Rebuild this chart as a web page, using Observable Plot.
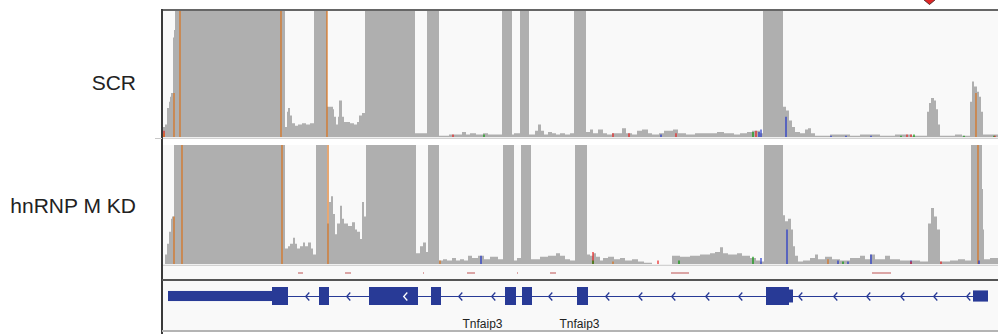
<!DOCTYPE html>
<html><head><meta charset="utf-8">
<script src="https://cdn.jsdelivr.net/npm/d3@7"></script>
<script src="https://cdn.jsdelivr.net/npm/@observablehq/plot@0.6"></script>
<style>
body{margin:0;background:#fff;font-family:"Liberation Sans",Arial,sans-serif;}
#root{position:relative;width:998px;height:334px;overflow:hidden;background:#fff;}
.slot{position:absolute;left:162px;}
.slot svg{display:block;}
.line{position:absolute;}
.label{position:absolute;left:0;width:136px;text-align:right;font-size:21px;line-height:21px;color:#222;white-space:nowrap;}
</style></head><body><div id="root"></div>
<script>
// ---- data (positions are bins across the locus, 0..836) ----
const trackNames = ["SCR", "hnRNP M KD"];
const FULL = 200; // saturated coverage (clipped at track top)

const scrCoverage = [[0,2],[1,8],[3,10],[5,23],[7,28],[8,32],[9,35],[11,79],[12,85],[13,FULL],
[123,8],[125,20],[126,23],[128,17],[130,11],[133,9],[136,10],[140,11],[144,10],[148,11],
[152,FULL],
[165,24],[171,22],[172,16],[174,10],[176,16],[177,29],[180,16],[182,12],[188,11],[192,10],[195,12],[197,17],[200,19],
[203,FULL],[253,3],[265,FULL],
[277,1],[287,2],[300,4],[304,2],[308,3],[314,2],[321,3],[326,2],
[340,FULL],[350,2],[352,3],[358,FULL],
[367,2],[373,5],[376,10],[379,5],[382,2],[386,4],[390,3],[394,2],[398,3],[403,2],[408,3],
[412,FULL],
[424,4],[428,6],[431,3],[436,6],[441,3],[445,2],[450,3],[460,7],[464,3],[470,2],[475,5],[480,6],[486,3],[490,2],[497,3],[502,5],[511,6],[516,3],[524,2],[533,3],[545,3],[555,4],[562,3],[572,2],[578,3],[585,4],[590,5],[598,3],
[601,FULL],
[621,24],[624,21],[627,13],[630,8],[633,4],[638,3],[643,6],[646,7],[649,3],[653,1],[668,2],[688,1],[698,2],[718,1],[733,2],[743,2],[750,1],
[765,20],[767,27],[769,31],[772,29],[774,22],[776,10],[778,1],[793,2],[800,1],
[808,28],[810,44],[812,40],[815,36],[817,32],[819,20],[821,2],[828,2],[836,2]];

const kdCoverage = [[0,0],[3,8],[5,17],[7,27],[9,38],[10,40],[12,FULL],
[123,13],[126,15],[128,17],[131,22],[133,17],[135,13],[138,15],[141,18],[143,15],[146,18],[149,13],[151,8],
[154,FULL],
[165,34],[167,52],[169,57],[171,42],[173,25],[175,34],[178,49],[180,38],[182,34],[186,32],[190,35],[193,29],[195,27],[198,21],[200,52],[202,40],
[204,FULL],
[254,9],[258,15],[261,18],[264,10],
[266,FULL],
[277,3],[281,4],[285,3],[290,5],[294,3],[298,4],[302,3],[306,7],[310,5],[316,7],[322,4],[328,6],[336,4],
[341,FULL],[352,3],[355,5],[359,FULL],
[369,4],[378,6],[386,7],[394,9],[398,7],[403,4],[408,3],
[413,FULL],
[425,8],[428,7],[431,9],[434,6],[438,3],[441,5],[446,6],[452,4],[458,5],[463,3],[470,4],[476,2],[482,1],[490,0],
[510,7],[518,6],[528,7],[538,8],[548,9],[553,10],[558,14],[561,9],[566,8],[575,9],[580,7],[588,5],[594,3],[598,2],
[602,FULL],
[621,41],[623,36],[626,38],[629,29],[631,15],[633,7],[636,2],[641,3],[648,5],[653,8],[656,4],[663,6],[670,4],[678,3],[688,5],[698,7],[703,4],[708,8],[713,4],[723,7],[728,4],[738,3],[748,3],[758,2],
[766,34],[769,47],[772,40],[775,29],[778,2],[788,3],[796,4],[803,3],
[809,FULL],
[820,63],[821,29],[822,4],[828,5],[836,5]];

// mismatches: [position, base, height]
const scrMismatches = [[1,"T",5],[1,"G",3],[11,"G",35],[17,"G",FULL],[118,"G",FULL],[164,"G",FULL],
[290,"T",2],[321,"A",2],[450,"T",3],[466,"T",3],[498,"C",2],[513,"T",3],[590,"A",4],[593,"T",5],[596,"C",4],[598,"C",6],
[623,"C",16],[668,"C",1],[683,"C",1],[708,"C",1],[738,"A",1],[744,"T",2],[748,"T",2],[751,"A",2],[801,"A",1],[813,"G",35],[831,"A",1],[832,"T",1]];
const kdMismatches = [[11,"G",40],[19,"G",FULL],[119,"G",FULL],[165,"G",FULL],[277,"G",3],[318,"C",7],
[430,"T",10],[430,"A",3],[450,"G",2],[495,"T",3],[516,"A",3],[590,"A",6],[598,"C",5],[624,"C",29],
[665,"G",4],[675,"C",3],[680,"A",2],[685,"C",2],[708,"C",8],[748,"C",3],[748,"T",2],[778,"T",2],[815,"G",FULL],[816,"C",3]];

// junction / feature marks: [start, end]
const junctions = [[136,141],[183,189],[261,262],[305,313],[355,356],[388,394],[509,527],[710,729]];

// gene model
const intron = [{start: 6, end: 826}];
const exons = [
  {start: 6, end: 110, type: "utr"},
  {start: 110, end: 126, type: "cds"},
  {start: 157, end: 167, type: "cds"},
  {start: 207, end: 256, type: "cds"},
  {start: 269, end: 279, type: "cds"},
  {start: 343, end: 354, type: "cds"},
  {start: 360, end: 370, type: "cds"},
  {start: 415, end: 426, type: "cds"},
  {start: 604, end: 627, type: "cds"},
  {start: 627, end: 631, type: "mid"},
  {start: 811, end: 826, type: "utr5"}
];
const strandArrows = [145,186,298,331,388,445,478,511,545,578,638,673,706,740,773,806];
const exonArrows = [243];
const geneLabels = [{x: 320, text: "Tnfaip3"}, {x: 417, text: "Tnfaip3"}];
const markerPos = [767];

// ---- drawing ----
const baseColor = {A: "#009600", C: "#1e32c8", G: "#d9711a", T: "#e81e1e"};
const geneBlue = "#283a96";
const W = 836;
const root = document.getElementById("root");

function place(node, top) {
  const d = document.createElement("div");
  d.className = "slot"; d.style.top = top + "px";
  d.appendChild(node); root.appendChild(d);
}
function line(left, top, width, height, color) {
  const d = document.createElement("div");
  d.className = "line";
  Object.assign(d.style, {left: left+"px", top: top+"px", width: width+"px", height: height+"px", background: color});
  root.appendChild(d);
}
function label(text, top) {
  const d = document.createElement("div");
  d.className = "label"; d.style.top = top + "px"; d.textContent = text;
  root.appendChild(d);
}

function coverageTrack(cov, mm, height) {
  return Plot.plot({
    width: W, height, marginTop: 0, marginBottom: 2, marginLeft: 0, marginRight: 0,
    x: {domain: [0, W], axis: null},
    y: {domain: [0, 100], clamp: true, axis: null},
    style: {background: "#f9f9f9"},
    marks: [
      Plot.areaY(cov, {x: d => d[0], y: d => d[1], curve: "step-after", fill: "#afafaf"}),
      Plot.ruleX(mm, {x: d => d[0] + 0.5, y1: 0, y2: d => d[2], stroke: d => baseColor[d[1]], strokeWidth: 1.2}),
      Plot.ruleY([0], {stroke: "#d2d2d2", strokeWidth: 1.6, dy: 1})
    ]
  });
}

// top marker (only its lower tip shows above the tracks)
const pin = {
  draw(ctx) {
    ctx.moveTo(-6, -6); ctx.lineTo(6, -6); ctx.lineTo(6, -1); ctx.lineTo(0, 4); ctx.lineTo(-6, -1); ctx.closePath();
  }
};
place(Plot.plot({
  width: W, height: 9, margin: 0,
  x: {domain: [0, W], axis: null}, y: {domain: [0, 9], axis: null},
  marks: [Plot.dot(markerPos, {x: d => d, y: 9, symbol: pin, fill: "#e02424", stroke: "#5a2a2a", strokeWidth: 1})]
}), 0);

place(coverageTrack(scrCoverage, scrMismatches, 128), 11);
place(coverageTrack(kdCoverage, kdMismatches, 121), 145);

// junction track
place(Plot.plot({
  width: W, height: 13, margin: 0,
  x: {domain: [0, W], axis: null},
  style: {background: "#f9f9f9"},
  marks: [Plot.rect(junctions, {x1: d => d[0], x2: d => d[1], insetTop: 6, insetBottom: 5, fill: "#dba5a5"})]
}), 266);

// gene track
const half = {cds: 1, utr: 0.56, mid: 0.72, utr5: 0.62};
const chevron = {
  draw(ctx, size) {
    const r = Math.sqrt(size / Math.PI);
    ctx.moveTo(r * 0.45, -r); ctx.lineTo(-r * 0.45, 0); ctx.lineTo(r * 0.45, r);
  }
};
place(Plot.plot({
  width: W, height: 50, margin: 0,
  x: {domain: [0, W], axis: null},
  y: {domain: [-35 / 9, 15 / 9], axis: null},
  style: {background: "#f9f9f9", fontFamily: "'Liberation Sans', Arial, sans-serif"},
  marks: [
    Plot.ruleY(intron, {x1: "start", x2: "end", y: 0, stroke: geneBlue, strokeWidth: 1.2}),
    Plot.rect(exons, {x1: "start", x2: "end", y1: d => -half[d.type], y2: d => half[d.type], fill: geneBlue}),
    Plot.dot(strandArrows, {x: d => d, y: 0, symbol: chevron, r: 4, fill: "none", stroke: geneBlue, strokeWidth: 1.3}),
    Plot.dot(exonArrows, {x: d => d, y: 0, symbol: chevron, r: 4, fill: "none", stroke: "#ffffff", strokeWidth: 1.3}),
    Plot.text(geneLabels, {x: "x", y: -3.52, text: "text", lineAnchor: "bottom", fontSize: 12, fill: "#222"})
  ]
}), 281);

// frame lines
line(162, 9, 836, 2, "#666");
line(161, 9, 2, 325, "#3a3a3a");
line(155, 138, 7, 1, "#c8c8c8");
line(162, 279, 836, 2, "#555");
line(162, 330, 836, 2, "#b4b4b4");

label(trackNames[0], 72);
label(trackNames[1], 195);
</script></body></html>
